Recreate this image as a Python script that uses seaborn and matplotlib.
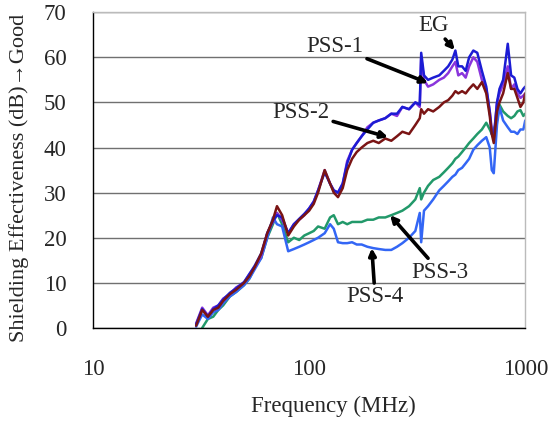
import numpy as np
import pandas as pd
import matplotlib
matplotlib.use("Agg")
import matplotlib.pyplot as plt
import seaborn as sns

# frequency grid (MHz) shared by all curves
freq = [30, 32, 34, 36, 38, 40, 43, 46, 50, 53, 56, 60, 64, 68, 71, 75, 80, 85, 90, 95,
        100, 105, 110, 118, 125, 130, 136, 143, 150, 158, 166, 175, 186, 198, 210, 225,
        240, 255, 270, 290, 310, 325, 330, 340, 355, 375, 400, 420, 440, 460, 475, 490,
        510, 530, 550, 575, 600, 630, 660, 685, 700, 715, 740, 760, 790, 830, 860, 890,
        920, 950, 980, 1000]

eg = [0.8, 4.2, 2.5, 4.2, 5, 6.3, 7.8, 8.8, 10.2, 12, 13.8, 16.5, 21, 23.8, 25, 24.5, 21, 23, 24.2, 25.3,
      26.5, 28, 30.5, 34.5, 32, 30.5, 30, 32, 36.5, 39.5, 41, 42.5, 44, 45.5, 46, 46.5,
      47.5, 47.5, 49, 48.5, 50, 49.5, 61, 56, 55, 55.5, 56, 57, 58, 59.5, 61.5, 58,
      58, 57, 60, 61.5, 61, 57, 53.5, 48, 43, 42, 50, 53, 55, 63, 56, 55.5,
      53, 52, 53, 53.5]

pss1 = [1, 4.5, 2.8, 4.5, 5, 6.5, 7.5, 9, 10, 12, 13.5, 16, 21, 23.5, 25.5, 24, 21, 23, 24, 25,
        26.5, 28, 30.5, 35, 32, 30.5, 30, 32, 37, 39.5, 41, 42.5, 44.5, 45.5, 46, 46.5,
        47.5, 47, 49, 48.5, 50, 49, 60, 55, 53.5, 54, 55, 55.5, 56.5, 58, 59, 56,
        56.5, 55.5, 58, 60, 59, 55, 53, 48, 44, 42, 50, 52, 54, 58, 53, 54,
        52, 51, 51.5, 52]

pss2 = [0.5, 4.0, 2.5, 4.0, 4.5, 6, 7.5, 8.5, 10, 11.5, 13.5, 16.5, 21, 24, 27, 25, 20.5, 22.5, 24, 25,
        26, 27.5, 30, 35, 32, 30, 29, 31, 35, 37.5, 39, 40, 41, 41.5, 41, 42,
        41.5, 42.5, 43.5, 43, 45, 46.5, 48.5, 47.5, 48.5, 48, 49, 50, 50.5, 51.5, 52.5, 52,
        52.5, 52, 53, 54, 53, 54.5, 52, 47, 43, 41, 48, 50, 52, 56.5, 53, 53,
        51, 49, 50, 52]

pss3 = [np.nan, 0, 2, 2.5, 4, 5, 7, 8, 9.5, 11, 13.5, 15.5, 20, 23, 25.5, 23, 19, 20, 19.5, 20.5,
        21, 21.5, 22.5, 22, 24.5, 25, 23, 23.5, 23, 23.5, 23.5, 23.5, 24, 24, 24.5, 24.5,
        25, 25.5, 26, 27, 28.5, 31, 28.5, 30, 31.5, 32.8, 33.5, 34.5, 35.5, 36.5, 37.5, 38,
        39, 40, 41, 42, 43, 44, 45.5, 44, 43, 44, 46, 49.5, 48, 47, 46.5, 47,
        48, 48.3, 47, 47.5]

pss4 = [0.3, 3, 2, 3.5, 4, 5.5, 7, 8, 9.5, 11, 13, 15.5, 20, 24.5, 23, 22.5, 17, 17.5, 18, 18.5,
        19, 19.5, 20, 21, 23, 22, 19, 18.8, 18.8, 19, 18.5, 18.5, 18, 17.7, 17.5, 17.3,
        17.3, 18, 18.8, 20, 21.5, 25.5, 19, 26, 27, 28.5, 30.5, 31.5, 32.5, 33.5, 34, 35,
        35.5, 36.5, 37.5, 39.5, 40.5, 41.5, 42.3, 40, 35, 34.3, 45, 49, 46, 44.5, 43.5, 43.5,
        43, 44, 44, 46]

series = {"EG": eg, "PSS-1": pss1, "PSS-2": pss2, "PSS-3": pss3, "PSS-4": pss4}
colors = {"EG": "#1c1cd4", "PSS-1": "#8a35dc", "PSS-2": "#7a1414",
          "PSS-3": "#22996a", "PSS-4": "#3366f5"}
draw_order = ["PSS-3", "PSS-4", "PSS-1", "EG", "PSS-2"]

rows = []
for name, vals in series.items():
    for f, v in zip(freq, vals):
        rows.append({"freq": f, "se": v, "sample": name})
df = pd.DataFrame(rows).dropna()

sns.set_theme(style="white")
plt.rcParams["font.family"] = ["Liberation Serif", "DejaVu Serif"]
fs = 16.5

fig = plt.figure(figsize=(5.57, 4.21), dpi=100)
ax = fig.add_axes([0.167, 0.221, 0.776, 0.750])

sns.lineplot(data=df, x="freq", y="se", hue="sample", hue_order=draw_order,
             palette=colors, estimator=None, sort=True, linewidth=1.8,
             legend=False, ax=ax)

ax.set_xscale("log")
ax.set_xlim(10, 1000)
ax.set_ylim(0, 70)
ax.set_xticks([10, 100, 1000])
ax.set_xticklabels(["10", "100", "1000"])
ax.xaxis.set_minor_locator(matplotlib.ticker.NullLocator())
ax.set_yticks(range(0, 71, 10))
ax.yaxis.grid(True, color="#707070", linewidth=1.0)
ax.set_axisbelow(True)

ax.tick_params(axis="x", which="major", direction="in", length=9, width=1,
               color="black", pad=22, labelsize=fs)
ax.tick_params(axis="y", length=0, pad=19, labelsize=fs)

for s in ["left", "bottom"]:
    ax.spines[s].set_color("black")
    ax.spines[s].set_linewidth(1.0)
for s in ["top", "right"]:
    ax.spines[s].set_color("#bbbbbb")
    ax.spines[s].set_linewidth(1.0)

ax.set_xlabel("Frequency (MHz)", fontsize=fs)
ax.set_ylabel("Shielding Effectiveness (dB)\u2192Good", fontsize=16)
ax.xaxis.set_label_coords(0.555, -0.215)
ax.yaxis.set_label_coords(-0.148, 0.475)

arrow = dict(arrowstyle="-|>", color="black", lw=2.6, mutation_scale=10,
             shrinkA=0, shrinkB=0)
ax.annotate("EG", xy=(472, 61.6), xytext=(375, 67.1), fontsize=fs,
            ha="center", va="center", arrowprops=arrow)
ax.annotate("PSS-1", xy=(355, 54.3), xytext=(132, 62.5), fontsize=fs,
            ha="center", va="center", arrowprops=arrow)
ax.annotate("PSS-2", xy=(232, 42.3), xytext=(92, 47.8), fontsize=fs,
            ha="center", va="center", arrowprops=arrow)
ax.annotate("PSS-3", xy=(237, 25), xytext=(404, 12.4), fontsize=fs,
            ha="center", va="center", arrowprops=arrow)
ax.annotate("PSS-4", xy=(195, 17.7), xytext=(202, 6.9), fontsize=fs,
            ha="center", va="center", arrowprops=arrow)

fig.savefig("out.png", dpi=100)
